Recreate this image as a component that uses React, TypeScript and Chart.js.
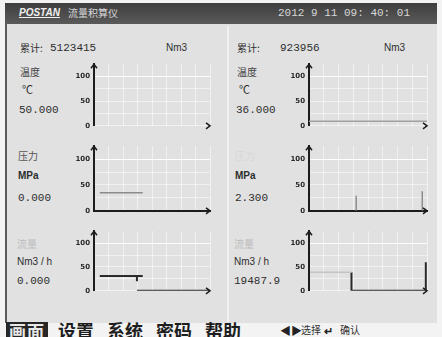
import React, { useEffect, useRef } from "react";
import { Chart, registerables } from "chart.js";
Chart.register(...registerables);

// ---- data (x: % of time window, y: % of range) ----
const yTickValues = [0, 25, 50, 75, 100];
const yTickLabels = ["0", "", "50", "", "100"];

const temp1X: number[] = [];
const temp1Y: (number | null)[] = [];
const temp2X = [0, 100];
const temp2Y = [9, 9];
const press1X = [5, 42];
const press1Y = [35, 35];
const press2X = [40, 40, 40, 96, 96];
const press2Y = [0, 29, null, 0, 38];
const flow1aX = [5, 42];
const flow1aY = [31, 31];
const flow1bX = [37, 37, 37, 37, 100];
const flow1bY = [31, 20, null, 0, 0];
const flow2aX = [1, 36];
const flow2aY = [39, 39];
const flow2bX = [36, 36, 99, 99];
const flow2bY = [39, 0, 0, 60];

const totals = ["5123415", "923956"];
const tempValues = ["50.000", "36.000"];
const pressValues = ["0.000", "2.300"];
const flowValues = ["0.000", "19487.9"];
const menuItems = ["设置", "系统", "密码", "帮助"];

type DS = { xs: number[]; ys: (number | null)[]; color: string; width: number };

const arrows = {
  id: "arrows",
  afterDraw(chart: any) {
    const { ctx, chartArea: a } = chart;
    ctx.save();
    ctx.strokeStyle = "#1c1c1c";
    ctx.lineWidth = 1.5;
    ctx.beginPath();
    ctx.moveTo(a.left - 3, a.top + 4);
    ctx.lineTo(a.left, a.top);
    ctx.lineTo(a.left + 3, a.top + 4);
    ctx.stroke();
    ctx.beginPath();
    ctx.moveTo(a.right - 4, a.bottom - 3);
    ctx.lineTo(a.right, a.bottom);
    ctx.lineTo(a.right - 4, a.bottom + 3);
    ctx.stroke();
    ctx.restore();
  },
};

function MiniChart(props: { left: number; top: number; width: number; height: number; sets: DS[]; xBorder: boolean }) {
  const ref = useRef<HTMLCanvasElement>(null);
  useEffect(() => {
    const chart = new Chart(ref.current as HTMLCanvasElement, {
      type: "line",
      data: {
        datasets: props.sets.map((s) => ({
          data: s.xs.map((x, i) => ({ x, y: s.ys[i] })),
          borderColor: s.color,
          borderWidth: s.width,
          pointRadius: 0,
          spanGaps: false,
          tension: 0,
        })),
      },
      options: {
        animation: false,
        responsive: false,
        events: [],
        layout: { padding: { top: 6, bottom: 6, right: 6, left: 0 } },
        plugins: { legend: { display: false }, tooltip: { enabled: false } },
        scales: {
          x: {
            type: "linear",
            min: 0,
            max: 100,
            ticks: { display: false, stepSize: 12.5 },
            grid: { color: "rgba(255,255,255,0.55)", drawTicks: false, lineWidth: 1 },
            border: { display: props.xBorder, color: "#1c1c1c", width: 2 },
            afterFit: (s: any) => {
              s.height = 0;
            },
          },
          y: {
            min: 0,
            max: 125,
            afterBuildTicks: (s: any) => {
              s.ticks = yTickValues.map((v) => ({ value: v }));
            },
            ticks: {
              padding: 4,
              color: "#2a2a2a",
              font: { size: 7, family: "DejaVu Sans", weight: "bold" },
              callback: (v: any) => yTickLabels[yTickValues.indexOf(Number(v))] ?? "",
            },
            grid: {
              color: (c: any) => (c.tick && c.tick.value === 100 ? "rgba(255,255,255,0.95)" : "rgba(255,255,255,0.5)"),
              drawTicks: false,
            },
            border: { color: "#1c1c1c", width: 2 },
            afterFit: (s: any) => {
              s.width = 38;
            },
          },
        },
      } as any,
      plugins: [arrows],
    });
    return () => chart.destroy();
  }, []);
  return (
    <canvas
      ref={ref}
      width={props.width}
      height={props.height}
      style={{ position: "absolute", left: props.left, top: props.top, width: props.width, height: props.height }}
    />
  );
}

const mono = "'Liberation Mono', 'DejaVu Sans Mono', monospace";
const cjk = "'Noto Sans CJK SC', 'Noto Sans', sans-serif";

function T(p: { x: number; y: number; size?: number; color?: string; font?: string; bold?: boolean; children: any; style?: any }) {
  return (
    <span
      style={{
        position: "absolute",
        left: p.x,
        top: p.y,
        fontSize: p.size ?? 11,
        lineHeight: 1,
        color: p.color ?? "#2e2e2e",
        fontFamily: p.font ?? mono,
        fontWeight: p.bold ? "bold" : "normal",
        whiteSpace: "pre",
        ...(p.style || {}),
      }}
    >
      {p.children}
    </span>
  );
}

export default function App() {
  const cols = [
    { x: 0, canvasLeft: 56, canvasW: 160 },
    { x: 217, canvasLeft: 271, canvasW: 162 },
  ];
  const rows = [
    { canvasTop: 56, h: 78 },
    { canvasTop: 138, h: 81 },
    { canvasTop: 223, h: 76 },
  ];
  const sets: DS[][][] = [
    [
      [{ xs: temp1X, ys: temp1Y, color: "#8c8c8c", width: 1.5 }],
      [{ xs: press1X, ys: press1Y, color: "#8c8c8c", width: 1.5 }],
      [
        { xs: flow1aX, ys: flow1aY, color: "#2a2a2a", width: 2 },
        { xs: flow1bX, ys: flow1bY, color: "#2a2a2a", width: 2 },
      ],
    ],
    [
      [{ xs: temp2X, ys: temp2Y, color: "#a0a0a0", width: 1.5 }],
      [{ xs: press2X, ys: press2Y, color: "#8c8c8c", width: 1.5 }],
      [
        { xs: flow2aX, ys: flow2aY, color: "#c4c4c4", width: 1.5 },
        { xs: flow2bX, ys: flow2bY, color: "#2a2a2a", width: 2 },
      ],
    ],
  ];
  return (
    <div style={{ position: "fixed", left: 0, top: 0, width: 442, height: 337, background: "#f3f3f3", overflow: "hidden" }}>
      {/* screen */}
      <div style={{ position: "absolute", left: 5, top: 3, width: 432, height: 320, background: "#e1e1e1" }} />
      <div style={{ position: "absolute", left: 5, top: 3, width: 2, height: 320, background: "#5a5a5a" }} />
      {/* title bar */}
      <div style={{ position: "absolute", left: 5, top: 3, width: 432, height: 21, background: "linear-gradient(#3e3e3e,#5a5a5a)" }} />
      <T x={19} y={8} size={10} color="#f0f0f0" font="'Liberation Sans', sans-serif" bold style={{ fontStyle: "italic", textDecoration: "underline" }}>
        POSTAN
      </T>
      <T x={68} y={8} size={10} color="#d8d8d8" font={cjk}>
        流量积算仪
      </T>
      <T x={278} y={8} size={11} color="#d8d8d8">
        {"2012 9 11 09: 40: 01"}
      </T>
      {/* column divider */}
      <div style={{ position: "absolute", left: 227, top: 26, width: 2, height: 296, background: "#f1f1f1" }} />
      {cols.map((c, ci) => (
        <React.Fragment key={ci}>
          <T x={c.x + 20} y={43} size={10} font={cjk}>
            累计:
          </T>
          <T x={c.x + 50 + ci * 13} y={43}>
            {totals[ci]}
          </T>
          <T x={c.x + 166 + ci * 1} y={43} size={10} font="'Liberation Sans', sans-serif">
            Nm3
          </T>
          <T x={c.x + 20} y={67} size={10} font={cjk} color="#444">
            温度
          </T>
          <T x={c.x + 22} y={84} size={11} font={cjk}>
            ℃
          </T>
          <T x={c.x + 19} y={105}>
            {tempValues[ci]}
          </T>
          <T x={c.x + 18} y={151} size={10} font={cjk} color={ci ? "#d8d8d8" : "#555"}>
            压力
          </T>
          <T x={c.x + 18} y={171} size={10} font="'Liberation Sans', sans-serif" bold>
            MPa
          </T>
          <T x={c.x + 18} y={193}>
            {pressValues[ci]}
          </T>
          <T x={c.x + 17} y={239} size={10} font={cjk} color="#bdbdbd">
            流量
          </T>
          <T x={c.x + 17} y={257} size={10} font="'Liberation Sans', sans-serif">
            Nm3 / h
          </T>
          <T x={c.x + 17} y={276}>
            {flowValues[ci]}
          </T>
          {rows.map((r, ri) => (
            <MiniChart
              key={ri}
              left={c.canvasLeft}
              top={r.canvasTop}
              width={c.canvasW}
              height={r.h}
              sets={sets[ci][ri]}
              xBorder={ri === 1}
            />
          ))}
        </React.Fragment>
      ))}
      {/* menu bar */}
      <span
        style={{
          position: "absolute",
          left: 6,
          top: 322,
          fontSize: 17,
          lineHeight: "17px",
          fontFamily: cjk,
          fontWeight: "bold",
          color: "#e8e8e8",
          background: "#262626",
          padding: "0 3px",
          letterSpacing: 1,
        }}
      >
        画面
      </span>
      {menuItems.map((m, i) => (
        <span
          key={m}
          style={{
            position: "absolute",
            left: 58 + i * 49,
            top: 321,
            fontSize: 18,
            lineHeight: "18px",
            fontFamily: cjk,
            fontWeight: "bold",
            color: "#1e1e1e",
          }}
        >
          {m}
        </span>
      ))}
      <T x={280} y={325} size={11} font={cjk} color="#222" bold>
        ◀▶
      </T>
      <T x={301} y={325} size={10} font={cjk} color="#333">
        选择
      </T>
      <T x={324} y={325} size={11} font={cjk} color="#222" bold>
        ↵
      </T>
      <T x={340} y={325} size={10} font={cjk} color="#333">
        确认
      </T>
    </div>
  );
}
